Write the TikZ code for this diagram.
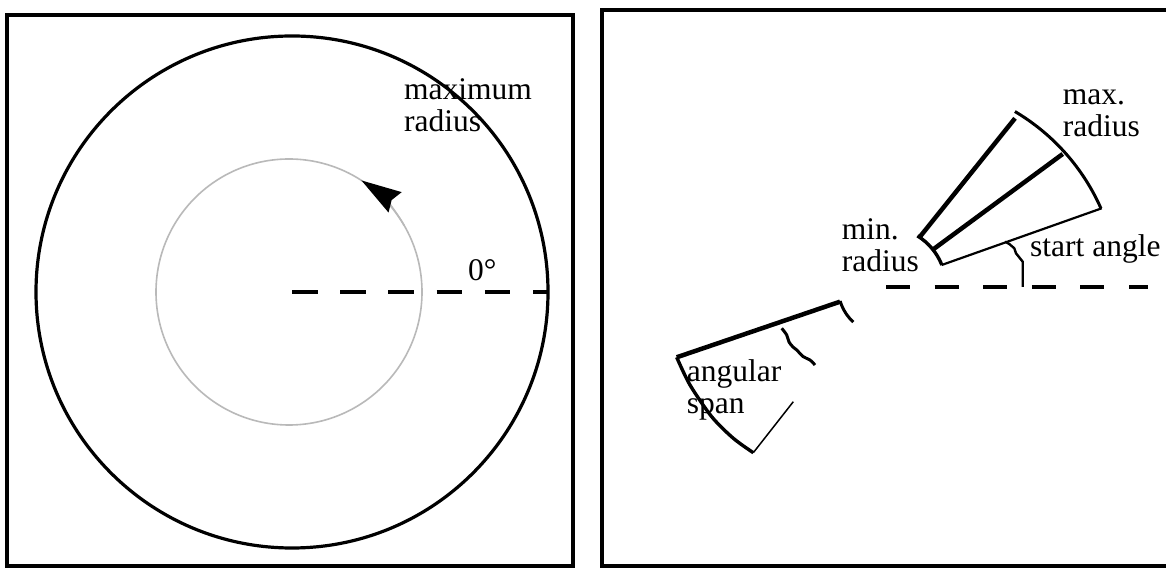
\documentclass[tikz,border=0pt]{standalone}
\usepackage{fontspec}
\setmainfont{Liberation Serif}
\usetikzlibrary{arrows.meta}
\begin{document}
\begin{tikzpicture}[x=1pt,y=1pt,
  lbl/.style={anchor=base west, inner sep=0pt, align=left, font=\fontsize{31.5}{32}\selectfont},
  frame/.style={line width=3.5pt},
  thickedge/.style={line width=4.5pt},
  thinedge/.style={line width=2.2pt},
  arcline/.style={line width=3pt},
  zeroline/.style={line width=4pt, dash pattern=on 25.5pt off 22.7pt},
  zerolineb/.style={line width=4pt, dash pattern=on 24pt off 24.6pt},
]
\useasboundingbox (0,0) rectangle (1166,569);
\fill[white] (0,0) rectangle (1166,569);

% ---------- left panel ----------
\draw[frame] (7,3) rectangle (573,554);
\coordinate (O) at (292,277);
\coordinate (Oi) at (289,277);
\coordinate (Z) at (548,277);
\draw[line width=3.2pt] (O) circle[radius=256];
\draw[gray!55, line width=1.6pt] (Oi) circle[radius=133];
\draw[gray!55, line width=1.6pt, -{Stealth[length=40pt, width=24pt, inset=4pt, color=black, fill=black]}]
  (Oi) ++(30:133) arc[start angle=30, end angle=57, radius=133];
\draw[zeroline] (O) -- (Z);
\node[lbl] (maxr) at (404,437) {maximum\\radius};
\node[lbl] (zero) at (468,288) {0°};

% ---------- right panel ----------
\draw[frame] (602,3) rectangle (1185,559);
\coordinate (C) at (886,282);
\coordinate (E) at (1148,282);
\draw[zerolineb] (C) -- (E);

% upper sector
\coordinate (u1) at (920,332.3);   \coordinate (u2) at (1015,450.7);
\coordinate (m1) at (933.3,319.7); \coordinate (m2) at (1062.7,415);
\coordinate (l1) at (941.7,304);   \coordinate (l2) at (1101.7,360.7);
\draw[thickedge] (u1) -- (u2);
\draw[thickedge] (m1) -- (m2);
\draw[thinedge] (l1) -- (l2);
\draw[arcline] (907,275) ++(59.4:212) arc[start angle=59.4, end angle=23.8, radius=212];
\draw[line width=3.4pt] (C) ++(58.5:60) arc[start angle=58.5, end angle=21.5, radius=60];
\draw[line width=2.4pt] (1022.7,282) -- (1022.7,307.3) -- (1016,315.7) -- (1014.3,320.7) -- (1009.3,325) -- (1005,327.3);

% lower-left sector
\coordinate (a1) at (676.7,211.7); \coordinate (a2) at (840,267.3);
\coordinate (b1) at (753.3,116.3); \coordinate (b2) at (793.3,167.3);
\draw[thickedge] (a1) -- (a2);
\draw[line width=3pt] (C) ++(197:48) arc[start angle=197, end angle=227, radius=48];
\draw[line width=3.4pt] plot[smooth] coordinates {(676.7,211.7) (690,184) (711.7,152.3) (733.3,130.7) (753.3,116.3)};
\draw[line width=1.5pt] (b1) -- (b2);
\draw[line width=3pt] plot[smooth] coordinates {(781.7,240.7) (786.7,234) (789,227) (793,222) (796.7,219) (803.3,212.3) (810,209) (815,204)};

\node[lbl] (maxr2) at (1062.7,432) {max.\\radius};
\node[lbl] (minr) at (841.7,297) {min.\\radius};
\node[lbl] (start) at (1030,312) {start angle};
\node[lbl] (span) at (686.7,155) {angular\\span};
\end{tikzpicture}
\end{document}
